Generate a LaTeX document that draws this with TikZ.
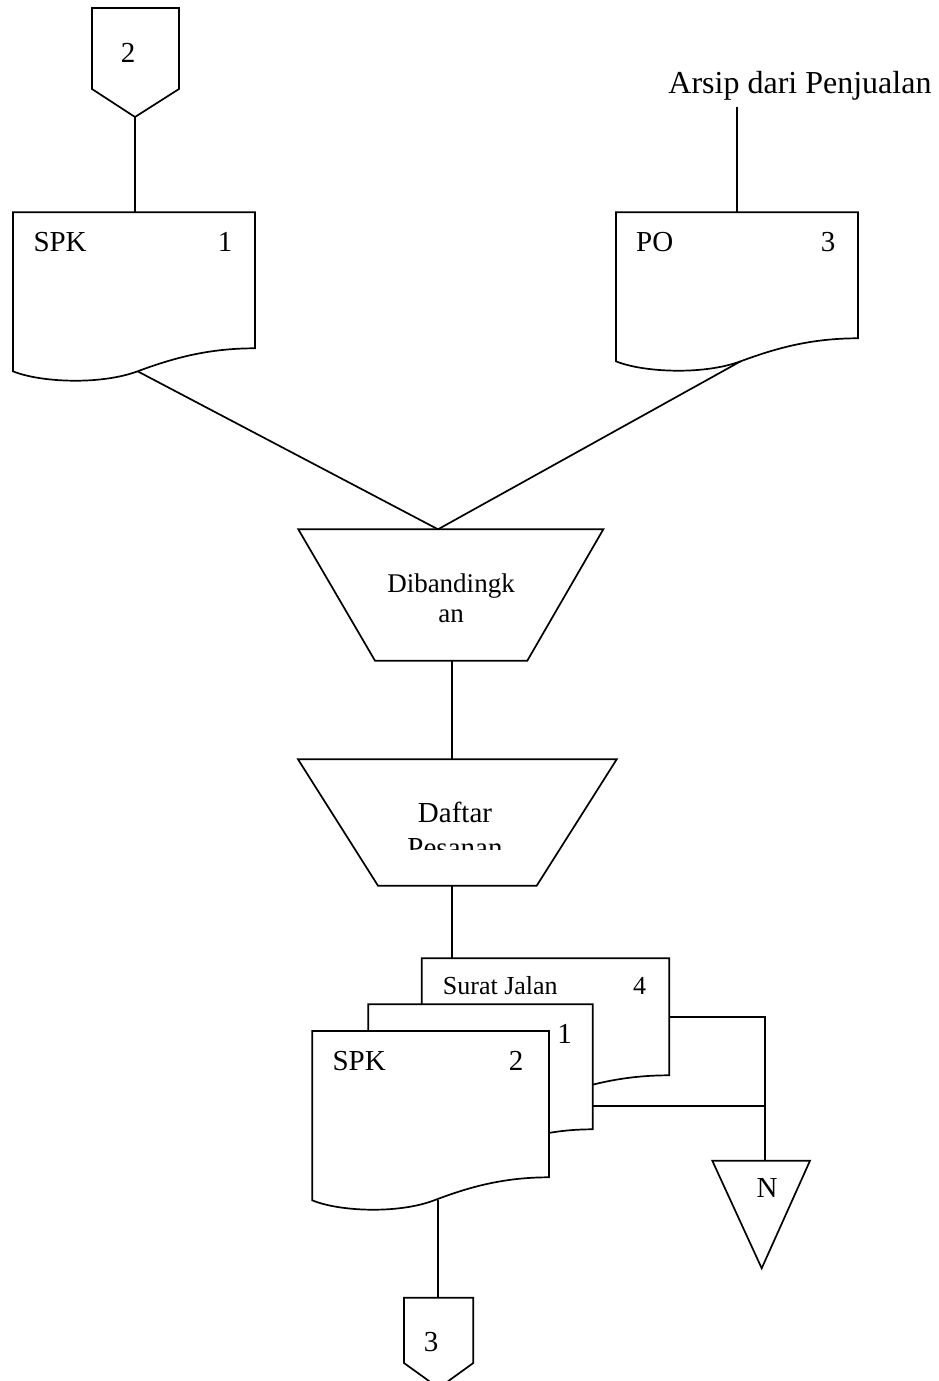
\documentclass[tikz,border=0pt]{standalone}
\usepackage{fontspec}
\setmainfont{Liberation Serif}
\usetikzlibrary{calc}

% Flowchart document symbol: #1 name, #2 left, #3 top, #4 width, #5 height of right edge
\newcommand\flowdoc[5]{%
  \pgfmathsetmacro\fdR{#2+#4}%
  \pgfmathsetmacro\fdB{#3+#5}%
  \pgfmathsetmacro\fdL{#3+#5+23}%
  \pgfmathsetmacro\fdM{#2+0.515*#4}%
  \pgfmathsetmacro\fdA{#2+0.814*#4}%
  \pgfmathsetmacro\fdC{#2+0.67*#4}%
  \pgfmathsetmacro\fdD{#2+0.36*#4}%
  \pgfmathsetmacro\fdE{#2+0.11*#4}%
  \filldraw[shapeline] (#2,#3) -- (\fdR,#3) -- (\fdR,\fdB)
     .. controls (\fdA,\fdB) and (\fdC,\fdB+9) .. (\fdM,\fdL)
     .. controls (\fdD,\fdL+14) and (\fdE,\fdL+11) .. (#2,\fdL) -- cycle;
  \coordinate (#1-wave) at (\fdM,\fdL);
}

\tikzset{
  shapeline/.style={draw=black, fill=white, line width=1.7pt, line join=miter},
  conn/.style={draw=black, line width=1.7pt},
  lbl/.style={inner sep=0pt, font=\fontsize{29}{30}\selectfont},
  smalllbl/.style={inner sep=0pt, font=\fontsize{26}{28}\selectfont},
}

\begin{document}
\begin{tikzpicture}[x=1pt, y=-1pt]
\useasboundingbox (0,0) rectangle (939,1381);

% ---- off-page connector 2 ----
\coordinate (c2-tip) at (135,117);
\filldraw[shapeline] (92,8) -- (179,8) -- (179,89) -- (c2-tip) -- (92,89) -- cycle;
\node[lbl, anchor=base] (c2-text) at (128,63) {2};

% ---- SPK copy 1 ----
\flowdoc{spk1}{13}{212.3}{242}{136}
\coordinate (spk1-top) at (135,212.3);
\node[lbl, anchor=base west] (spk1-name) at (33.3,251.7) {SPK};
\node[lbl, anchor=base] (spk1-no) at (225,251.7) {1};

% ---- PO copy 3 ----
\flowdoc{po}{616}{212.3}{242}{126}
\coordinate (po-top) at (736.7,212.3);
\node[lbl, anchor=base west] (po-name) at (636,251.7) {PO};
\node[lbl, anchor=base] (po-no) at (828,251.7) {3};
\node[inner sep=0pt, font=\fontsize{32}{33}\selectfont, anchor=base] (arsip) at (800,93.3) {Arsip dari Penjualan};
\coordinate (arsip-end) at (736.7,106.7);

% ---- manual operation: Dibandingkan ----
\coordinate (cmp-apex) at (438,529.3);
\coordinate (cmp-bottom) at (451.7,660.7);
\filldraw[shapeline] (298.3,529.3) -- (603.3,529.3) -- (527.3,660.7) -- (375,660.7) -- cycle;
\node[inner sep=0pt, font=\fontsize{27}{30}\selectfont, align=center, anchor=base] (cmp-text) at (451,622.7) {Dibandingk\\an};

% ---- manual operation: Daftar Pesanan ----
\coordinate (list-top) at (451.7,759.3);
\coordinate (list-bottom) at (451.7,885.7);
\filldraw[shapeline] (298,759.3) -- (616.7,759.3) -- (536.7,885.7) -- (378,885.7) -- cycle;
\begin{scope}
  \clip (0,0) rectangle (939,849.3);
  \node[inner sep=0pt, font=\fontsize{29}{35}\selectfont, align=center, anchor=base] (list-text) at (455,857.7) {Daftar\\Pesanan};
\end{scope}

% ---- Surat Jalan 4, copy 1, SPK 2 ----
\flowdoc{sj}{421.7}{958.3}{247.6}{117}
\coordinate (sj-top) at (451.7,958.3);
\coordinate (sj-east) at (669.3,1016.7);
\node[smalllbl, anchor=base west] (sj-name) at (442.7,994.3) {Surat Jalan};
\node[smalllbl, anchor=base] (sj-no) at (639.7,994.3) {4};

\flowdoc{mid}{368.3}{1004.3}{224.4}{125}
\coordinate (mid-east) at (592.7,1105.7);
\node[lbl, anchor=base] (mid-no) at (564.7,1043.3) {1};

\flowdoc{spk2}{312.3}{1031}{236.7}{146.3}
\node[lbl, anchor=base west] (spk2-name) at (332.3,1070) {SPK};
\node[lbl, anchor=base] (spk2-no) at (516,1070) {2};

% ---- file N ----
\coordinate (n-top) at (765,1160.7);
\coordinate (junc) at (765,1105.7);
\filldraw[shapeline] (712.3,1160.7) -- (810,1160.7) -- (761.7,1268.3) -- cycle;
\node[lbl, anchor=base] (n-text) at (767,1197.7) {N};

% ---- off-page connector 3 ----
\coordinate (c3-top) at (438,1297.7);
\filldraw[shapeline] (404,1297.7) -- (473.3,1297.7) -- (473.3,1363) -- (438.7,1388) -- (404,1363) -- cycle;
\node[lbl, anchor=base] (c3-text) at (431,1351.7) {3};

% ---- connectors ----
\draw[conn] (c2-tip) -- (spk1-top);
\draw[conn] (arsip-end) -- (po-top);
\draw[conn] (spk1-wave) -- (cmp-apex);
\draw[conn] (po-wave) -- (cmp-apex);
\draw[conn] (cmp-bottom) -- (list-top);
\draw[conn] (list-bottom) -- (sj-top);
\draw[conn] (sj-east) -| (junc);
\draw[conn] (mid-east) -- (junc) -- (n-top);
\draw[conn] (c3-top |- spk2-wave) -- (c3-top);
\end{tikzpicture}
\end{document}
